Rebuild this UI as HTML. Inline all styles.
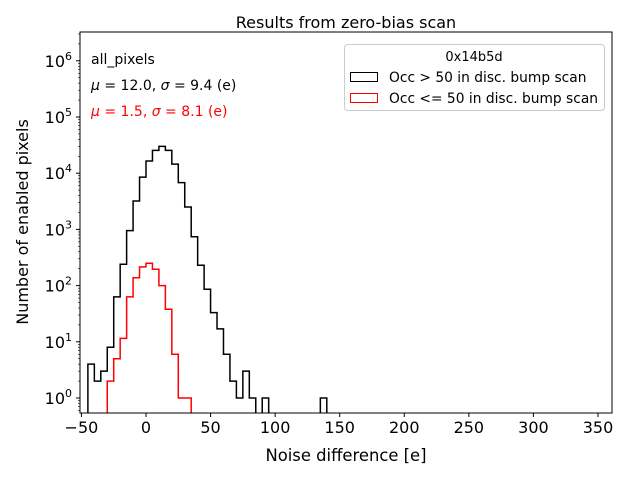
<!DOCTYPE html>
<html><head><meta charset="utf-8"><style>
body{margin:0;background:#fff}
svg{font-family:"DejaVu Sans","Liberation Sans",sans-serif}
</style></head><body>
<svg id="chart" width="640" height="480" viewBox="0 0 640 480" xmlns="http://www.w3.org/2000/svg">
<rect width="640" height="480" fill="#fff"/>
<text x="346" y="28" font-size="16" text-anchor="middle">Results from zero-bias scan</text>
<g id="plot"></g>
<text x="346" y="461" font-size="16.4" text-anchor="middle">Noise difference [e]</text>
<text transform="translate(28,222) rotate(-90)" font-size="16" text-anchor="middle">Number of enabled pixels</text>
<text x="91" y="64" font-size="14">all_pixels</text>
<text x="91" y="90" font-size="14"><tspan font-style="italic">μ</tspan> = 12.0, <tspan font-style="italic">σ</tspan> = 9.4 (e)</text>
<text x="91" y="116" font-size="14" fill="#ff0000"><tspan font-style="italic">μ</tspan> = 1.5, <tspan font-style="italic">σ</tspan> = 8.1 (e)</text>
<g>
<rect x="344.5" y="44.5" width="260" height="66" rx="3" fill="#fff" stroke="#ccc"/>
<text x="474" y="61" font-size="13" text-anchor="middle">0x14b5d</text>
<rect x="350.5" y="72.5" width="27" height="9" fill="none" stroke="#000"/>
<text x="389" y="82" font-size="13.8">Occ &gt; 50 in disc. bump scan</text>
<rect x="350.5" y="93.5" width="27" height="9" fill="none" stroke="#ff0000"/>
<text x="389" y="103" font-size="13.8">Occ &lt;= 50 in disc. bump scan</text>
</g>
</svg>
<script>
const binStart = -45, binWidth = 5;
const blackCounts = [4,2,3,8,63,240,950,3200,8500,16500,25500,30000,25500,14500,6800,2500,740,230,86,33,17,6,2,1,3,1,0,1,0,0,0,0,0,0,0,0,1];
const redStart = -30;
const redCounts = [2,5,11.5,63,138,215,250,195,100,38,6,1,1];
const xTicks = [-50,0,50,100,150,200,250,300,350];
const xTickLabels = ["−50","0","50","100","150","200","250","300","350"];
const yExps = [0,1,2,3,4,5,6];

const L=80,R=612,T=32,B=413;
const X = v => 146 + v*1.2914;
const Y = c => 398 - Math.log10(c)*56.2;
const NS="http://www.w3.org/2000/svg";
const g=document.getElementById('plot');
function mk(tag,attrs){const e=document.createElementNS(NS,tag);for(const k in attrs)e.setAttribute(k,attrs[k]);g.appendChild(e);return e;}
function stepPath(start,counts){
  let d="";
  for(let i=0;i<counts.length;i++){
    const x0=X(start+i*binWidth),x1=X(start+(i+1)*binWidth),c=counts[i];
    const y=c>0?Y(c):B+2;
    if(i===0)d+=`M${x0},${B+2}`;
    d+=`L${x0},${y}L${x1},${y}`;
  }
  d+=`L${X(start+counts.length*binWidth)},${B+2}`;
  return d;
}
const defs=mk('clipPath',{id:'clip'});
const cr=document.createElementNS(NS,'rect');cr.setAttribute('x',L);cr.setAttribute('y',T);cr.setAttribute('width',R-L);cr.setAttribute('height',B-T);defs.appendChild(cr);
const pb=mk('path',{d:stepPath(binStart,blackCounts),fill:'none',stroke:'#000','stroke-width':1.5,'clip-path':'url(#clip)'});


const pr=mk('path',{d:stepPath(redStart,redCounts),fill:'none',stroke:'#ff0000','stroke-width':1.5,'clip-path':'url(#clip)'});


const frame=mk('rect',{x:L,y:T,width:R-L,height:B-T,fill:'none',stroke:'#000','stroke-width':1});


xTicks.forEach((v,i)=>{
  const x=X(v);
  mk('line',{x1:x,x2:x,y1:B,y2:B+4,stroke:'#000'});
  const t=mk('text',{x:x,y:B+20,'font-size':16,'text-anchor':'middle'});
  t.textContent=xTickLabels[i];
  
  
});
yExps.forEach(e=>{
  const y=Y(Math.pow(10,e));
  mk('line',{x1:L-4,x2:L,y1:y,y2:y,stroke:'#000'});
  const t=mk('text',{x:L-8,y:y+6,'font-size':16,'text-anchor':'end'});
  t.innerHTML='10<tspan dy="-7" font-size="11">'+e+'</tspan>';
  
  
  for(let m=2;m<10;m++){
    const ym=Y(m*Math.pow(10,e));
    if(ym>T&&ym<B) mk('line',{x1:L-2,x2:L,y1:ym,y2:ym,stroke:'#000','stroke-width':0.6});
  }
});
for(let m=4;m<10;m++){const ym=Y(m*0.1);if(ym<B)mk('line',{x1:L-2,x2:L,y1:ym,y2:ym,stroke:'#000','stroke-width':0.6});}
</script>
</body></html>
